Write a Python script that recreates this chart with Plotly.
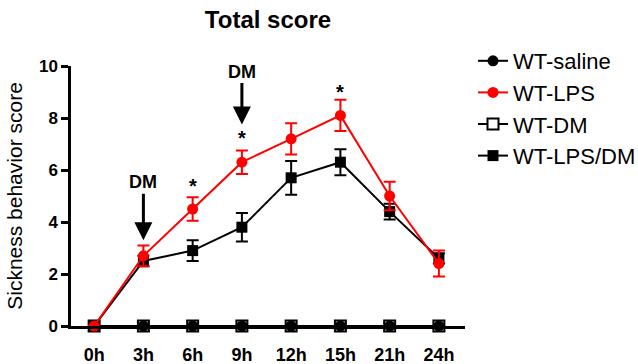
import plotly.graph_objects as go

times = ["0h", "3h", "6h", "9h", "12h", "15h", "21h", "24h"]
saline = [0, 0, 0, 0, 0, 0, 0, 0]
saline_err = [0, 0, 0, 0, 0, 0, 0, 0]
lps = [0, 2.7, 4.5, 6.3, 7.2, 8.1, 5.0, 2.4]
lps_err = [0, 0.4, 0.45, 0.45, 0.6, 0.6, 0.55, 0.5]
dm = [0, 0, 0, 0, 0, 0, 0, 0]
dm_err = [0, 0, 0, 0, 0, 0, 0, 0]
lpsdm = [0, 2.5, 2.9, 3.8, 5.7, 6.3, 4.4, 2.6]
lpsdm_err = [0, 0.2, 0.4, 0.55, 0.65, 0.5, 0.3, 0.2]

dm_arrows = [("3h", 3.3, -58), ("9h", 7.75, -53)]
stars = [("6h", 5.4), ("9h", 7.25), ("15h", 9.0)]

FONT = "Arial, Liberation Sans, sans-serif"

fig = go.Figure()

def add(name, y, err, color, symbol, rank, fill=None):
    fig.add_trace(go.Scatter(
        x=times, y=y, name=name, mode="lines+markers",
        line=dict(color=color, width=2),
        marker=dict(color=fill or color, symbol=symbol, size=11,
                    line=dict(color=color, width=2 if fill else 0)),
        error_y=dict(type="data", array=err, visible=True, color=color, thickness=2, width=6),
        cliponaxis=False, legendrank=rank,
    ))

add("WT-DM", dm, dm_err, "black", "square", 3, fill="white")
add("WT-saline", saline, saline_err, "black", "circle", 1)
add("WT-LPS/DM", lpsdm, lpsdm_err, "black", "square", 4)
add("WT-LPS", lps, lps_err, "#ff0000", "circle", 2)

annotations = []
for x, y, ay in dm_arrows:
    annotations.append(dict(x=x, y=y, xref="x", yref="y", text="<b>DM</b>", showarrow=True,
                            ax=0, ay=ay, arrowhead=2, arrowsize=1.2, arrowwidth=3,
                            arrowcolor="black", font=dict(size=18, color="black", family=FONT)))
for x, y in stars:
    annotations.append(dict(x=x, y=y, xref="x", yref="y", text="<b>*</b>", showarrow=False,
                            font=dict(size=20, color="black", family=FONT)))

fig.update_layout(
    width=638, height=364,
    margin=dict(l=71, r=173, t=66, b=38, autoexpand=False),
    paper_bgcolor="white", plot_bgcolor="white",
    font=dict(family=FONT, color="black"),
    title=dict(text="<b>Total score</b>", x=0.5, xref="paper", xanchor="center",
               y=1 - 20 / 364, yref="container", yanchor="middle",
               font=dict(size=24, color="black", family=FONT)),
    showlegend=True,
    legend=dict(x=473 / 638, xref="container", xanchor="left",
                y=1 - 40 / 364, yref="container", yanchor="top",
                font=dict(size=22, color="black", family=FONT),
                bgcolor="rgba(0,0,0,0)", tracegroupgap=0, itemwidth=30),
    annotations=annotations,
)
fig.update_xaxes(type="category", range=[-0.47, 7.53], showline=True, linecolor="black",
                 linewidth=2.5, ticks="", showgrid=False, zeroline=False, automargin=False,
                 tickfont=dict(size=18, family=FONT, color="black"),
                 tickvals=times, ticktext=["<b>%s</b>" % t for t in times],
                 ticklabelstandoff=11)
fig.update_yaxes(range=[0, 10], showline=True, linecolor="black", linewidth=2.5,
                 ticks="outside", ticklen=7, tickwidth=2.5, tickcolor="black", automargin=False,
                 tickvals=[0, 2, 4, 6, 8, 10], ticktext=["<b>%d</b>" % v for v in [0, 2, 4, 6, 8, 10]],
                 showgrid=False, zeroline=False,
                 tickfont=dict(size=17, family=FONT, color="black"),
                 title=dict(text="Sickness behavior score", font=dict(size=21, family=FONT, color="black"),
                            standoff=11))

fig.write_html("out.html")
